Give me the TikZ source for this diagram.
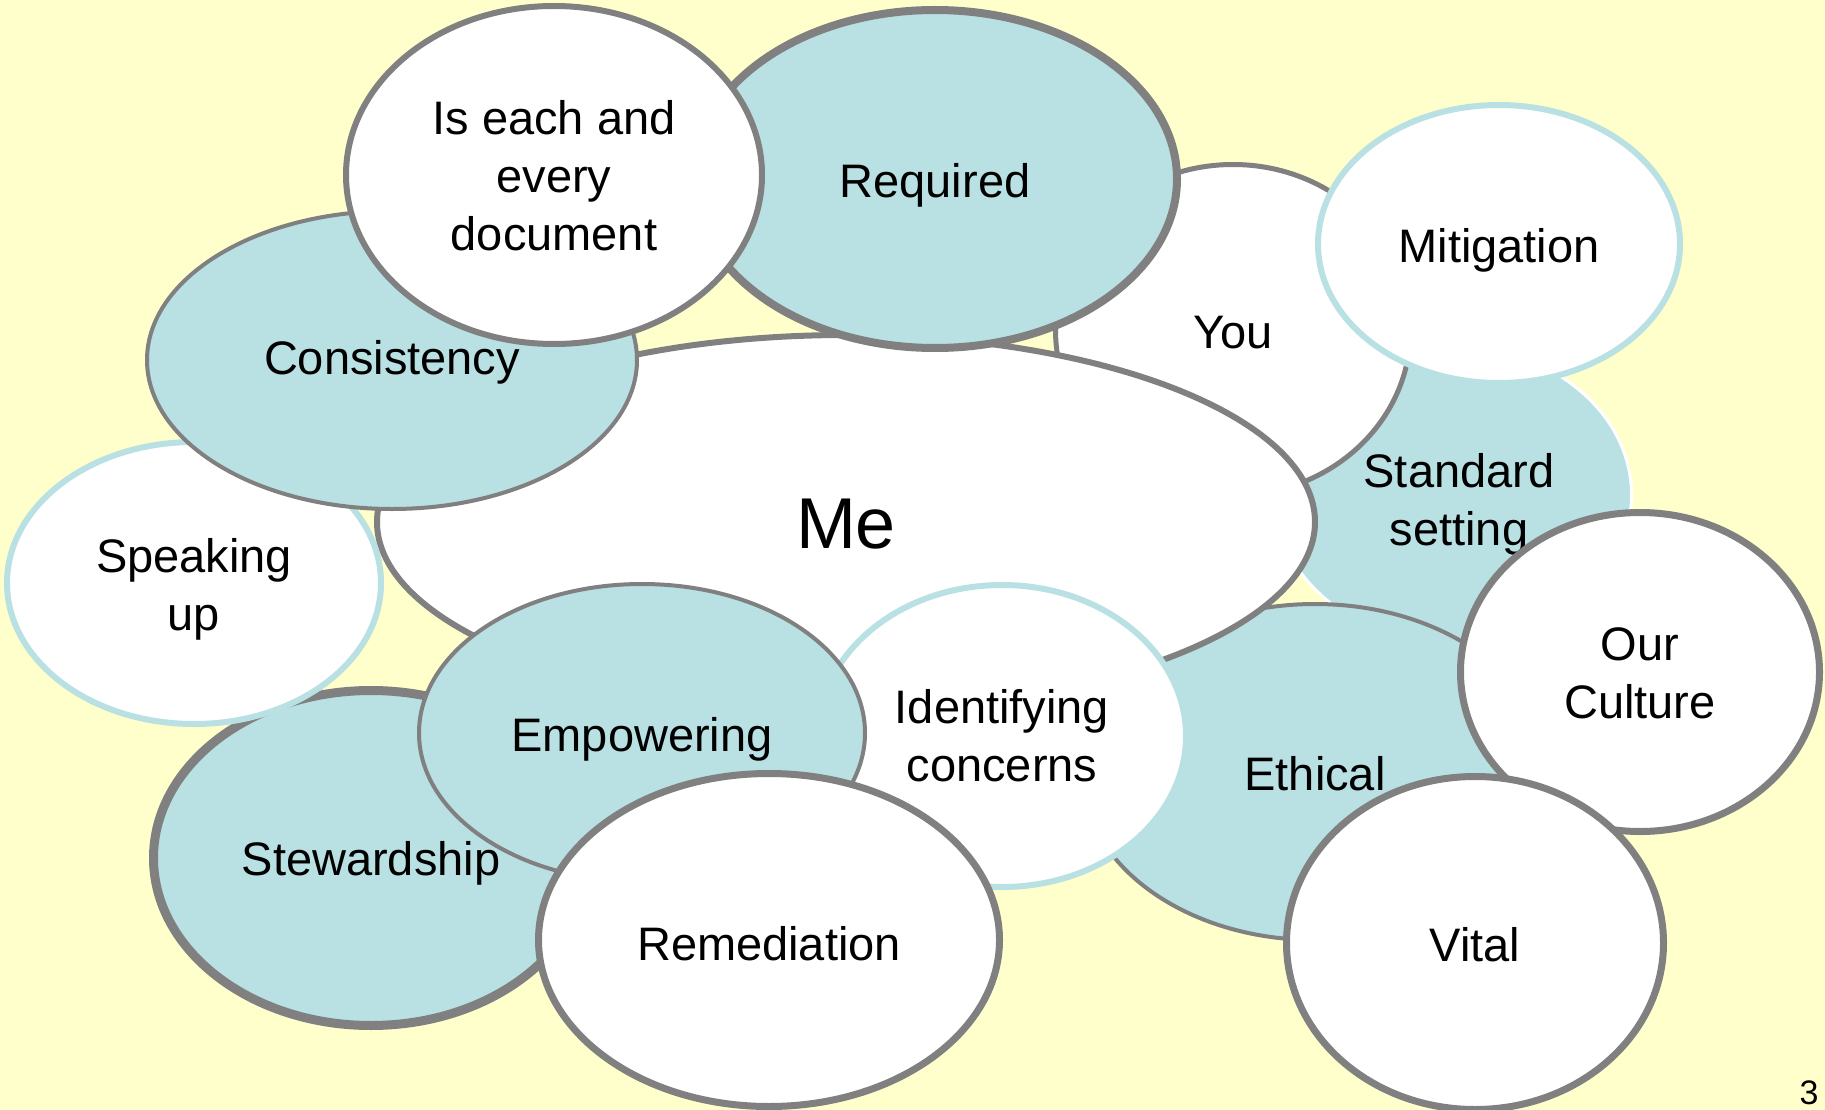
\documentclass[tikz,border=0pt]{standalone}
\usepackage{fontspec}
\setmainfont{Liberation Sans}
\usetikzlibrary{shapes.geometric}
\definecolor{bgyellow}{HTML}{FFFFCC}
\definecolor{bubteal}{HTML}{B9E0E3}
\definecolor{bubgray}{HTML}{808080}
\begin{document}
\begin{tikzpicture}[x=1pt,y=-1pt,
  bub/.style={ellipse, inner sep=0pt, outer sep=0pt},
  tealbub/.style={bub, fill=bubteal, draw=bubgray},
  whitebub/.style={bub, fill=white, draw=bubgray},
  bluebub/.style={bub, fill=white, draw=bubteal},
  sz/.style 2 args={minimum width=#1pt, minimum height=#2pt},
  lbl/.style={inner sep=0pt, align=center, text=black,
    font=\fontsize{47}{58}\selectfont}
]
\fill[bgyellow] (0,0) rectangle (1825,1110);
\useasboundingbox (0,0) rectangle (1825,1110);

\node[tealbub, draw=white, line width=3pt, sz={357}{297}] (std) at (1453,495) {};
\node[lbl] (stdtxt) at ([xshift=6pt,yshift=-9pt]std.center) {Standard\\setting};

\node[tealbub, line width=4pt, sz={466}{336}] (ethical) at (1315,772) {};
\node[lbl] (ethicaltxt) at ([yshift=-2pt]ethical.center) {Ethical};

\node[whitebub, line width=5pt, sz={355}{331}] (you) at (1233,330) {};
\node[lbl] (youtxt) at ([yshift=-3pt]you.center) {You};

\node[whitebub, line width=6pt, sz={938}{374}] (me) at (846,522) {};
\node[lbl, font=\fontsize{72}{86}\selectfont] (metxt) at ([yshift=-2pt]me.center) {Me};

\node[bluebub, line width=6pt, sz={362}{278}] (mitigation) at (1499,244) {};
\node[lbl] (mitigationtxt) at ([yshift=-6pt]mitigation.center) {Mitigation};

\node[tealbub, line width=8pt, sz={484}{338}] (required) at (935,179) {};
\node[lbl] (requiredtxt) at ([yshift=-6pt]required.center) {Required};

\node[tealbub, line width=9pt, sz={435}{335}] (stewardship) at (371,858) {};
\node[lbl] (stewardshiptxt) at ([yshift=-5pt]stewardship.center) {Stewardship};

\node[bluebub, line width=6pt, sz={374}{282}] (speaking) at (194,583) {};
\node[lbl] (speakingtxt) at ([yshift=-6pt]speaking.center) {Speaking\\up};

\node[tealbub, line width=4pt, sz={490}{298}] (consistency) at (392,360) {};
\node[lbl] (consistencytxt) at ([yshift=-2pt]consistency.center) {Consistency};

\node[whitebub, line width=6pt, sz={416}{338}] (document) at (554,175) {};
\node[lbl] (documenttxt) at ([yshift=-1pt]document.center) {Is each and\\every\\document};

\node[bluebub, line width=6pt, sz={368}{302}] (identifying) at (1002,736) {};
\node[lbl] (identifyingtxt) at (identifying.center) {Identifying\\concerns};

\node[tealbub, line width=4pt, sz={446}{298}] (empowering) at (642,733) {};
\node[lbl] (empoweringtxt) at ([yshift=-6pt]empowering.center) {Empowering};

\node[whitebub, line width=7pt, sz={461}{333}] (remediation) at (769,940) {};
\node[lbl] (remediationtxt) at ([yshift=-4pt]remediation.center) {Remediation};

\node[whitebub, line width=7pt, sz={359}{319}] (culture) at (1640,672) {};
\node[lbl] (culturetxt) at ([yshift=-1pt]culture.center) {Our\\Culture};

\node[whitebub, line width=7pt, sz={377}{333}] (vital) at (1475,943) {};
\node[lbl] (vitaltxt) at ([yshift=-2pt]vital.center) {Vital};

\node[inner sep=0pt, font=\fontsize{34}{40}\selectfont] (pagenum) at (1809,1093) {3};
\end{tikzpicture}
\end{document}
